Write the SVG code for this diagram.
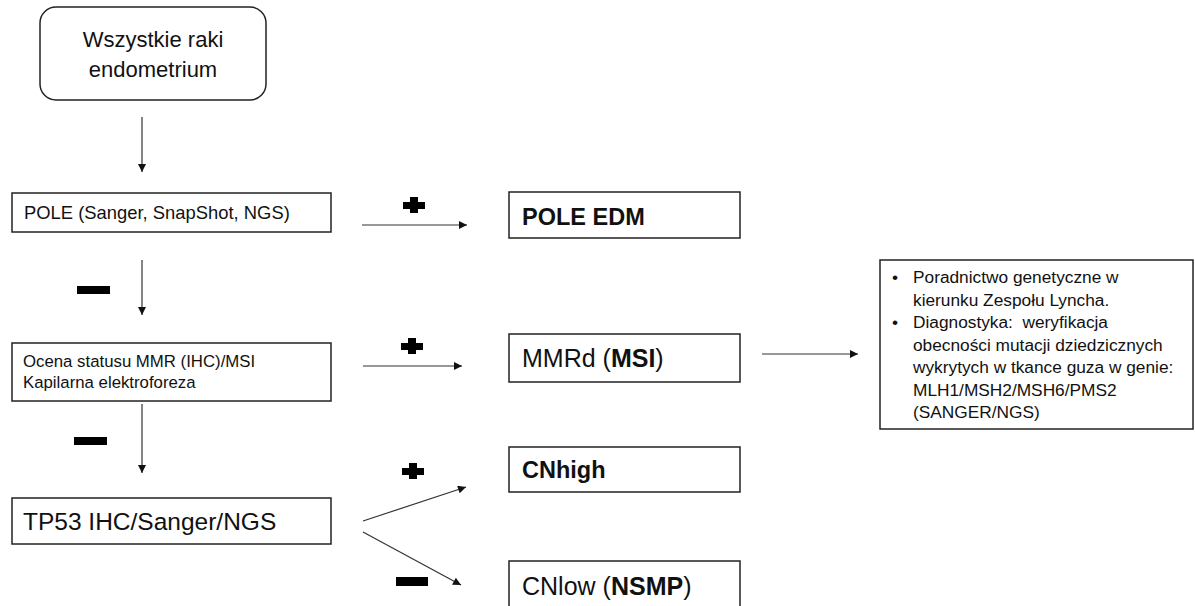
<svg xmlns="http://www.w3.org/2000/svg" width="1195" height="606" viewBox="0 0 1195 606">
  <style>
    text { font-family: "Liberation Sans", Arial, sans-serif; fill: #111; }
    .box { fill: #fff; stroke: #222; stroke-width: 1.5; }
    .b { font-weight: bold; }
    .conn { stroke: #333; stroke-width: 1.2; fill: none; marker-end: url(#ah); }
    .sign { fill: #000; }
  </style>
  <defs>
    <marker id="ah" viewBox="0 0 10 10" refX="10" refY="5" markerUnits="userSpaceOnUse" markerWidth="9" markerHeight="8" orient="auto">
      <path d="M0,0 L10,5 L0,10 Z" fill="#111"/>
    </marker>
  </defs>
  <rect width="1195" height="606" fill="#fff"/>

  <g id="start">
    <rect class="box" x="40" y="7" width="226" height="93" rx="16"/>
    <text x="153" y="47" font-size="22" text-anchor="middle">Wszystkie raki</text>
    <text x="153" y="77" font-size="22" text-anchor="middle">endometrium</text>
  </g>

  <g id="pole">
    <rect class="box" x="12" y="193" width="319" height="39"/>
    <text x="24" y="219" font-size="18.4">POLE (Sanger, SnapShot, NGS)</text>
  </g>

  <g id="mmr">
    <rect class="box" x="12" y="343" width="319" height="58"/>
    <text x="23" y="367" font-size="16.8">Ocena statusu MMR (IHC)/MSI</text>
    <text x="23" y="388" font-size="16.8">Kapilarna elektroforeza</text>
  </g>

  <g id="tp53">
    <rect class="box" x="12" y="498" width="319" height="46"/>
    <text x="23" y="530" font-size="24.5">TP53 IHC/Sanger/NGS</text>
  </g>

  <g id="pole-edm">
    <rect class="box" x="509" y="192" width="231" height="46"/>
    <text x="522" y="225" font-size="23.5" class="b">POLE EDM</text>
  </g>

  <g id="mmrd">
    <rect class="box" x="509" y="334" width="231" height="48"/>
    <text x="522" y="367" font-size="25">MMRd (<tspan class="b">MSI</tspan>)</text>
  </g>

  <g id="cnhigh">
    <rect class="box" x="509" y="447" width="231" height="45"/>
    <text x="522" y="478" font-size="23.5" class="b">CNhigh</text>
  </g>

  <g id="cnlow">
    <rect class="box" x="509" y="561" width="231" height="60"/>
    <text x="522" y="595" font-size="25">CNlow (<tspan class="b">NSMP</tspan>)</text>
  </g>

  <g id="lynch">
    <rect class="box" x="880" y="260" width="313" height="169"/>
    <g font-size="17.3">
      <text x="895" y="283" text-anchor="middle">•</text>
      <text x="913" y="283">Poradnictwo genetyczne w</text>
      <text x="913" y="305.5">kierunku Zespołu Lyncha.</text>
      <text x="895" y="328" text-anchor="middle">•</text>
      <text x="913" y="328" xml:space="preserve">Diagnostyka:  weryfikacja</text>
      <text x="913" y="350.5">obecności mutacji dziedzicznych</text>
      <text x="913" y="373">wykrytych w tkance guza w genie:</text>
      <text x="913" y="395.5">MLH1/MSH2/MSH6/PMS2</text>
      <text x="913" y="418">(SANGER/NGS)</text>
    </g>
  </g>

  <g id="connectors">
    <line class="conn" x1="142" y1="117" x2="142" y2="172"/>
    <line class="conn" x1="142" y1="260" x2="142" y2="315"/>
    <line class="conn" x1="142" y1="404" x2="142" y2="473"/>
    <line class="conn" x1="362" y1="225" x2="467" y2="225"/>
    <line class="conn" x1="363" y1="366" x2="462" y2="366"/>
    <line class="conn" x1="762" y1="354" x2="858" y2="354"/>
    <line class="conn" x1="363" y1="521" x2="466" y2="487"/>
    <line class="conn" x1="363" y1="532" x2="461" y2="585"/>
  </g>

  <g id="signs">
    <path class="sign" d="M410,197 h8 v5 h7 v7 h-7 v4 h-8 v-4 h-7 v-7 h7 Z"/>
    <path class="sign" d="M408,338 h8 v5 h7 v7 h-7 v4 h-8 v-4 h-7 v-7 h7 Z"/>
    <path class="sign" d="M409,463 h8 v5 h7 v7 h-7 v4 h-8 v-4 h-7 v-7 h7 Z"/>
    <rect class="sign" x="77" y="286" width="33" height="8"/>
    <rect class="sign" x="74" y="437" width="33" height="8"/>
    <rect class="sign" x="396" y="577" width="32" height="9"/>
  </g>
</svg>
